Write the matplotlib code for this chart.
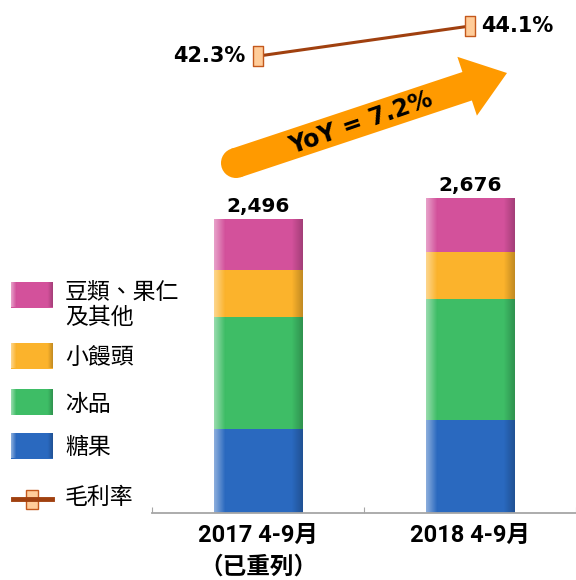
import numpy as np
import matplotlib.pyplot as plt
from matplotlib.patches import Rectangle, Polygon, Circle
from matplotlib.path import Path

# data
periods = ["2017 4-9月\n（已重列）", "2018 4-9月"]
categories = ["糖果", "冰品", "小饅頭", "豆類、果仁\n及其他"]
candy = [714, 790]
ice = [951, 1028]
mantou = [399, 399]
nuts = [432, 459]
totals = [2496, 2676]
margin = [42.3, 44.1]
margin_label = "毛利率"
yoy_text = "YoY = 7.2%"

colors = ["#2A69BF", "#3EBD66", "#FBB32C", "#D3519B"]
line_color = "#A0400F"
marker_face = "#FFCC99"
marker_edge = "#C4581C"
arrow_color = "#FF9A00"
axis_gray = "#A6A6A6"

cjk = ["Noto Sans CJK TC", "DejaVu Sans"]
tick_font = ["Roboto", "Noto Sans CJK TC", "DejaVu Sans"]

# tall rectangle marker
rect_marker = Path([(-0.5, -1), (0.5, -1), (0.5, 1), (-0.5, 1), (-0.5, -1)],
                   [Path.MOVETO, Path.LINETO, Path.LINETO, Path.LINETO, Path.CLOSEPOLY])


def shade(ax, patch):
    # light left edge, dark right edge like the glossy office bars
    x0, y0 = patch.get_x(), patch.get_y()
    w, h = patch.get_width(), patch.get_height()
    t = np.linspace(0, 1, 64)
    light = np.clip(1 - t / 0.12, 0, 1) * 0.45
    dark = np.clip((t - 0.88) / 0.12, 0, 1) * 0.22
    g = np.zeros((1, 64, 4))
    g[0, :, :3] = np.where(light[:, None] > 0, 1.0, 0.0)
    g[0, :, 3] = light + dark
    im = ax.imshow(g, extent=[x0, x0 + w, y0, y0 + h], aspect="auto",
                   interpolation="bilinear", zorder=patch.get_zorder() + 0.1)
    im.set_clip_path(patch)


fig = plt.figure(figsize=(5.76, 5.80), dpi=100)
ax = fig.add_axes([152 / 576, 67 / 580, 424 / 576, 513 / 580])

x = np.arange(len(periods))
bottom = np.zeros(len(periods))
for vals, c in zip([candy, ice, mantou, nuts], colors):
    bars = ax.bar(x, vals, 0.42, bottom=bottom, color=c, zorder=2)
    for b in bars:
        shade(ax, b)
    bottom += vals

for xi, t in zip(x, totals):
    ax.annotate(f"{t:,}", (xi, t), xytext=(0, 5), textcoords="offset points",
                ha="center", va="baseline", fontsize=14.5, fontweight="bold")

ax.set_xlim(-0.502, 1.488)
ax.set_ylim(0, 4355)
for s in ["top", "left", "right"]:
    ax.spines[s].set_visible(False)
ax.spines["bottom"].set_color(axis_gray)
ax.spines["bottom"].set_linewidth(1.3)
ax.set_yticks([])
ax.set_xticks([-0.5, 0.5, 1.5])
ax.set_xticklabels([])
ax.tick_params(axis="x", which="major", direction="in", length=4, color=axis_gray)
ax.set_xticks(x, minor=True)
ax.set_xticklabels(periods, minor=True)
ax.tick_params(axis="x", which="minor", length=0, pad=8)
for lab in ax.get_xticklabels(minor=True):
    lab.set_family(tick_font)
    lab.set_fontweight("bold")
    lab.set_fontsize(17)
    lab.set_linespacing(1.45)

# gross margin line on its own scale
ax2 = ax.twinx()
ax2.plot(x, margin, color=line_color, lw=2.2, marker=rect_marker, ms=14,
         mfc=marker_face, mec=marker_edge, mew=1, zorder=3)
ax2.set_ylim(14.9, 45.66)
ax2.axis("off")
ax2.annotate(f"{margin[0]}%", (x[0], margin[0]), xytext=(-9, 0), textcoords="offset points",
             ha="right", va="center", fontsize=15, fontweight="bold")
ax2.annotate(f"{margin[1]}%", (x[1], margin[1]), xytext=(8, 0), textcoords="offset points",
             ha="left", va="center", fontsize=15, fontweight="bold")

# overlay in pixel units for arrow and legend
ov = fig.add_axes([0, 0, 1, 1])
ov.set_xlim(0, 576)
ov.set_ylim(580, 0)
ov.axis("off")

tail = np.array([236.0, 163.0])
tip = np.array([507.0, 73.0])
u = (tip - tail) / np.linalg.norm(tip - tail)
n = np.array([-u[1], u[0]])
head = tip - u * 42
body_w, head_w = 15, 31
pts = [tail + n * body_w, head + n * body_w, head + n * head_w, tip,
       head - n * head_w, head - n * body_w, tail - n * body_w]
ov.add_patch(Polygon(pts, closed=True, color=arrow_color, lw=0))
ov.add_patch(Circle(tail, body_w, color=arrow_color, lw=0))
ov.text(361, 123, yoy_text, rotation=19, rotation_mode="anchor", ha="center", va="center",
        fontsize=17, fontweight="bold")

# legend
leg_rows = [(294.5, 3), (355.5, 2), (402, 1), (445.5, 0)]
leg_text_y = [305, 357, 404, 447]
for (yc, i), ty in zip(leg_rows, leg_text_y):
    r = Rectangle((11, yc - 13), 42, 26, color=colors[i], lw=0)
    ov.add_patch(r)
    shade(ov, r)
    ov.text(65, ty, categories[i], ha="left", va="center", fontsize=16.5, family=cjk,
            linespacing=1.1)
ov.set_xlim(0, 576)
ov.set_ylim(580, 0)

ov.plot([13, 52], [499, 499], color=line_color, lw=3.5)
ov.add_patch(Rectangle((26, 489.5), 12, 19, facecolor=marker_face, edgecolor=marker_edge, lw=1))
ov.text(65, 497, margin_label, ha="left", va="center", fontsize=16.5, family=cjk)

fig.savefig("out.png", dpi=100)
